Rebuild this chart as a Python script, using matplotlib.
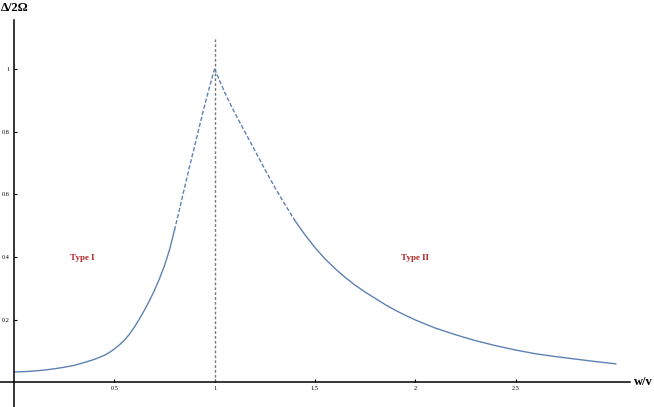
import numpy as np
import matplotlib
matplotlib.use('Agg')
import matplotlib.pyplot as plt

# gia tri doc tu hinh: nhanh trai (Type I) va nhanh phai (Type II)
x_left = [0.0, 0.05, 0.1, 0.15, 0.2, 0.25, 0.3, 0.35, 0.4, 0.45, 0.475, 0.5,
          0.525, 0.55, 0.575, 0.6, 0.625, 0.65, 0.675, 0.7, 0.725, 0.75, 0.775,
          0.8, 0.825, 0.85, 0.875, 0.9, 0.925, 0.95, 0.975, 1.0]
y_left = [0.033, 0.034, 0.036, 0.039, 0.043, 0.048, 0.054, 0.063, 0.073, 0.086,
          0.095, 0.106, 0.119, 0.134, 0.153, 0.176, 0.202, 0.23, 0.26, 0.293,
          0.33, 0.372, 0.422, 0.485, 0.552, 0.62, 0.688, 0.752, 0.818, 0.882,
          0.943, 1.0]

x_right = [1.0, 1.025, 1.05, 1.075, 1.1, 1.15, 1.2, 1.25, 1.3, 1.35, 1.4, 1.45,
           1.5, 1.55, 1.6, 1.65, 1.7, 1.75, 1.8, 1.85, 1.9, 1.95, 2.0, 2.1, 2.2,
           2.3, 2.4, 2.5, 2.6, 2.7, 2.8, 2.9, 3.0]
y_right = [1.0, 0.962, 0.925, 0.892, 0.86, 0.8, 0.74, 0.68, 0.622, 0.568, 0.516,
           0.471, 0.43, 0.394, 0.363, 0.335, 0.31, 0.288, 0.268, 0.248, 0.23,
           0.214, 0.199, 0.173, 0.152, 0.133, 0.117, 0.103, 0.091, 0.082, 0.074,
           0.066, 0.059]

# doan net dut gan dinh
dash_lo, dash_hi = 0.8, 1.4

xticks = [0.5, 1, 1.5, 2, 2.5]
xtick_labels = ['0.5', '1', '1.5', '2', '2.5']
yticks = [0.2, 0.4, 0.6, 0.8, 1]
ytick_labels = ['0.2', '0.4', '0.6', '0.8', '1']

line_color = '#5E81B5'
serif = ['Liberation Serif', 'DejaVu Serif']

fig = plt.figure(figsize=(6.54, 4.07), dpi=100)
ax = fig.add_axes([0, 0, 1, 1])
ax.set_xlim(-14 / 200.6, 640 / 200.6)
ax.set_ylim(-24.7 / 313.5, 382.3 / 313.5)

xl, yl = np.array(x_left), np.array(y_left)
xr, yr = np.array(x_right), np.array(y_right)

# phan lien
ax.plot(xl[xl <= dash_lo], yl[xl <= dash_lo], color=line_color, lw=1.0)
ax.plot(xr[xr >= dash_hi], yr[xr >= dash_hi], color=line_color, lw=1.0)
# phan net dut
ax.plot(xl[xl >= dash_lo], yl[xl >= dash_lo], color=line_color, lw=1.0, ls=(0, (3, 1.5)))
ax.plot(xr[xr <= dash_hi], yr[xr <= dash_hi], color=line_color, lw=1.0, ls=(0, (3, 1.5)))
# duong x = 1
ax.plot([1, 1], [0, 1.1], color='#777777', lw=1.0, ls=(0, (2, 1.5)))

# truc toa do kieu Mathematica
for side in ['top', 'right']:
    ax.spines[side].set_visible(False)
ax.spines['left'].set_position(('data', 0))
ax.spines['bottom'].set_position(('data', 0))
ax.spines['left'].set_bounds(-24.7 / 313.5, 1.156)
ax.spines['bottom'].set_bounds(-14 / 200.6, 3.07)
ax.spines['left'].set_linewidth(1.1)
ax.spines['bottom'].set_linewidth(1.1)

ax.set_xticks(xticks)
ax.set_xticklabels(xtick_labels)
ax.set_yticks(yticks)
ax.set_yticklabels(ytick_labels)
ax.tick_params(direction='in', length=2.5, width=0.8, labelsize=4.5, pad=3)
for lab in ax.get_xticklabels() + ax.get_yticklabels():
    lab.set_family(serif)

ax.text(0.34, 0.395, 'Type I', color='#B22222', fontsize=6.5, fontweight='bold',
        family=serif, ha='center', va='center')
ax.text(2.0, 0.395, 'Type II', color='#B22222', fontsize=6.5, fontweight='bold',
        family=serif, ha='center', va='center')

fig.text(1 / 654, 1 - 8 / 407, 'Δ/2Ω', fontsize=9, fontweight='bold', family=serif,
         ha='left', va='center')
fig.text(634 / 654, 1 - 382 / 407, 'w/v', fontsize=9, fontweight='bold', family=serif,
         ha='left', va='center')

fig.savefig('out.png', dpi=100)
